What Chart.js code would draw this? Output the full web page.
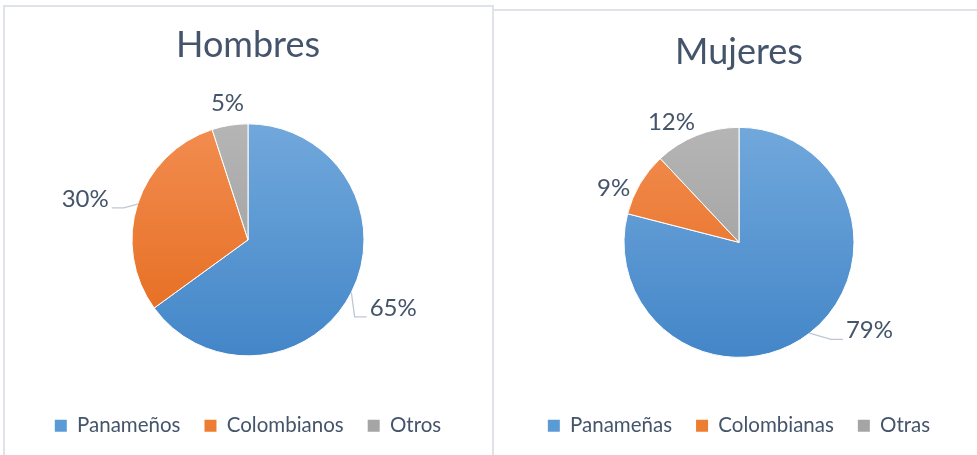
<!DOCTYPE html>
<html><head><meta charset="utf-8">
<script src="https://cdn.jsdelivr.net/npm/chart.js@4/dist/chart.umd.min.js"></script>
<style>
html,body{margin:0;padding:0;background:#fff;overflow:hidden;width:977px;height:455px;position:relative;}
#p1{position:absolute;left:3px;top:5px;width:487px;height:470px;border-left:2px solid #DFE3E9;border-top:2px solid #DFE3E9;border-right:2px solid #DFE3E9;}
#p2{position:absolute;left:494px;top:9px;width:500px;height:470px;border-top:2px solid #DFE3E9;}
.c{position:absolute;}
</style></head><body>
<div id="p1"></div><div id="p2"></div>
<div class="c" style="left:4px;top:0;width:488px;height:470px"><canvas id="c1"></canvas></div>
<div class="c" style="left:494px;top:0;width:490px;height:470px"><canvas id="c2"></canvas></div>
<script>
// ---- data ----
const categoriesHombres = ['Panameños', 'Colombianos', 'Otros'];
const valuesHombres = [65, 30, 5];
const categoriesMujeres = ['Panameñas', 'Colombianas', 'Otras'];
const valuesMujeres = [79, 9, 12];
const titleHombres = 'Hombres';
const titleMujeres = 'Mujeres';

// ---- style ----
const TEXT = '#44546A';
const FONT = 'Lato';
const gradStops = [['#71A8DC', '#4386C8'], ['#F28D50', '#E4691B'], ['#B5B5B5', '#989898']];
const flatColors = ['#5B9BD5', '#ED7D31', '#A5A5A5'];

function sliceFill(c) {
  const chart = c.chart;
  const a = chart.chartArea;
  const stops = gradStops[c.dataIndex % 3];
  if (!a) return stops[0];
  const cy = (a.top + a.bottom) / 2;
  const r = chart.options.radius;
  const g = chart.ctx.createLinearGradient(0, cy - r, 0, cy + r);
  g.addColorStop(0, stops[0]);
  g.addColorStop(1, stops[1]);
  return g;
}

const labelPlugin = {
  id: 'outLabels',
  afterDatasetsDraw(chart, args, opts) {
    const ctx = chart.ctx;
    const meta = chart.getDatasetMeta(0);
    const ds = chart.data.datasets[0];
    ctx.save();
    ctx.font = opts.fontSize + 'px ' + FONT;
    meta.data.forEach((arc, i) => {
      const p = arc.getProps(['x', 'y', 'startAngle', 'endAngle', 'outerRadius'], true);
      const a = (p.startAngle + p.endAngle) / 2;
      const c = Math.cos(a), s = Math.sin(a);
      const txt = ds.data[i] + '%';
      const w = ctx.measureText(txt).width;
      const h = opts.textHeight;
      const R = p.outerRadius + opts.gap;
      const sh = opts.shift[i] || [0, 0];
      const lx = p.x + c * R + c * w / 2 + sh[0];
      const ly = p.y + s * R + s * h / 2 + sh[1];
      if (opts.leader[i]) {
        const ex = p.x + c * p.outerRadius, ey = p.y + s * p.outerRadius;
        const right = lx > ex;
        const tx = right ? lx - w / 2 - 3 : lx + w / 2 + 3;
        const ty = ly + h / 2;
        const sx = right ? tx - 12 : tx + 12;
        ctx.beginPath();
        ctx.moveTo(ex, ey);
        ctx.lineTo(sx, ty);
        ctx.lineTo(tx, ty);
        ctx.strokeStyle = '#BFC7D3';
        ctx.lineWidth = 1.3;
        ctx.stroke();
      }
      ctx.fillStyle = TEXT;
      ctx.textAlign = 'center';
      ctx.textBaseline = 'middle';
      ctx.fillText(txt, lx, ly);
    });
    ctx.restore();
  }
};

function makeChart(id, labels, values, title, radius, titlePad, shift, leader) {
  return new Chart(document.getElementById(id), {
    type: 'pie',
    data: {
      labels: labels,
      datasets: [{ data: values, backgroundColor: sliceFill, borderColor: '#ffffff', borderWidth: 1 }]
    },
    options: {
      responsive: true,
      maintainAspectRatio: false,
      animation: false,
      radius: radius,
      layout: { padding: { bottom: 24 } },
      plugins: {
        title: {
          display: true, text: title, color: TEXT,
          font: { family: FONT, size: 36, weight: 'normal' },
          padding: titlePad
        },
        legend: {
          position: 'bottom',
          labels: {
            color: TEXT,
            font: { family: FONT, size: 20.5 },
            boxWidth: 12, boxHeight: 12, padding: 24,
            generateLabels(chart) {
              return chart.data.labels.map((l, i) => ({
                text: l, fillStyle: flatColors[i], strokeStyle: flatColors[i], lineWidth: 0,
                fontColor: TEXT, hidden: false, index: i
              }));
            }
          }
        },
        tooltip: { enabled: false },
        outLabels: { fontSize: 24, textHeight: 18, gap: 14, shift: shift, leader: leader }
      }
    },
    plugins: [labelPlugin]
  });
}

function draw() {
  makeChart('c1', categoriesHombres, valuesHombres, titleHombres, 116,
    { top: 24, bottom: 21 },
    [[8.4, 4.9], [-16.8, 2], [2.4, 0.3]], [true, true, false]);
  makeChart('c2', categoriesMujeres, valuesMujeres, titleMujeres, 115,
    { top: 31, bottom: 19 },
    [[37, -21], [0, 16], [-11.4, 8.4]], [true, false, false]);
}
if (document.fonts && document.fonts.load) {
  document.fonts.load('36px Lato').then(draw, draw);
} else { draw(); }
</script>
</body></html>
